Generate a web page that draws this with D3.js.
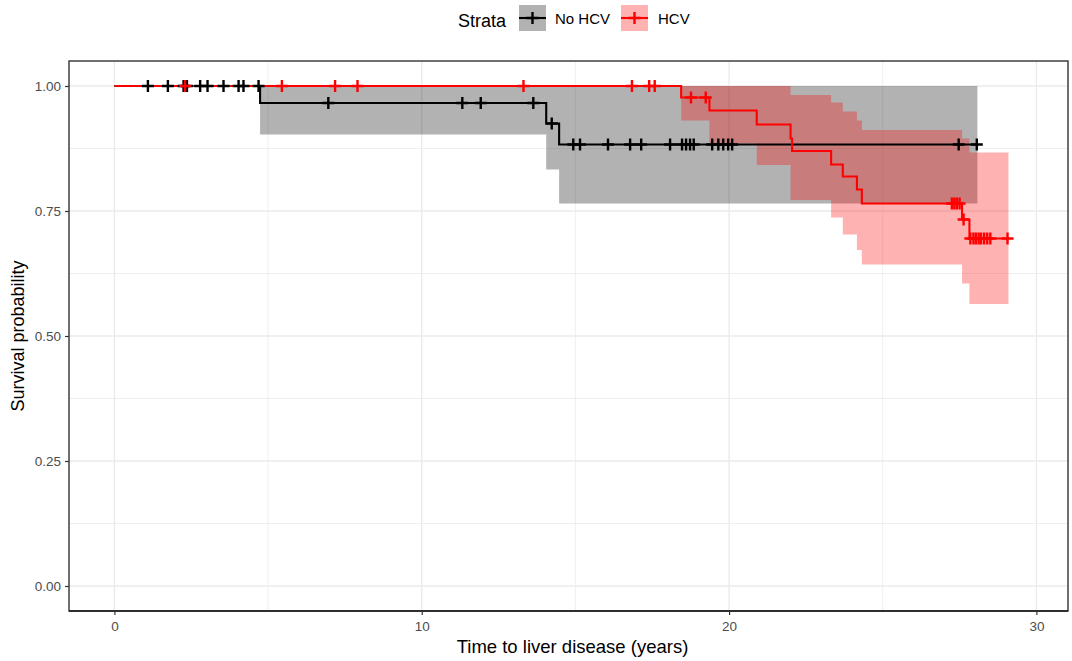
<!DOCTYPE html>
<html>
<head>
<meta charset="utf-8">
<script src="https://cdn.jsdelivr.net/npm/d3@7"></script>
<style>
  body { margin: 0; background: #fff; }
  text { font-family: "Liberation Sans", Arial, sans-serif; }
</style>
</head>
<body>
<script>
/* -----------------------------------------------------
 *  Data
 ----------------------------------------------------- */
const strata = ["No HCV", "HCV"];
const colors = ["black", "red"];

// No HCV
const noHcvTime = [0, 4.74, 14.05, 14.47];
const noHcvSurv = [1, 0.966, 0.925, 0.883];
const noHcvUpper = [1, 1, 1, 1];
const noHcvLower = [1, 0.903, 0.833, 0.765];
const noHcvEnd = 28.08;
const noHcvCensor = [1.09, 1.74, 2.25, 2.36, 2.79, 3.03, 3.55, 4.04, 4.2, 4.69,
  6.96, 11.32, 11.92, 13.63, 14.23,
  14.93, 15.15, 16.06, 16.78, 17.14, 18.08, 18.47, 18.6, 18.73, 18.85,
  19.45, 19.65, 19.81, 19.97, 20.1, 27.47, 28.06];

// HCV
const hcvTime = [0, 18.44, 19.36, 20.9, 22.0, 22.05, 23.32, 23.7, 24.16, 24.32, 27.58, 27.82];
const hcvSurv = [1, 0.977, 0.951, 0.923, 0.895, 0.87, 0.843, 0.819, 0.793, 0.765, 0.733, 0.695];
const hcvUpper = [1, 1, 1, 1, 0.982, 0.982, 0.967, 0.949, 0.931, 0.912, 0.895, 0.867];
const hcvLower = [1, 0.931, 0.885, 0.842, 0.772, 0.772, 0.737, 0.703, 0.672, 0.643, 0.605, 0.564];
const hcvEnd = 29.09;
const hcvCensor = [2.3, 5.45, 7.18, 7.91, 13.31, 16.84, 17.4, 17.58, 18.76, 19.24,
  27.25, 27.33, 27.41, 27.5, 27.63,
  27.85, 27.95, 28.03, 28.12, 28.2, 28.3, 28.4, 28.5, 29.06];

const xTicks = [0, 10, 20, 30];
const xMinor = [5, 15, 25];
const yTicks = [0, 0.25, 0.5, 0.75, 1];
const yMinor = [0.125, 0.375, 0.625, 0.875];

/* -----------------------------------------------------
 *  SVG setup
 ----------------------------------------------------- */
const width = 1072;
const height = 661;
const panel = { left: 69, right: 1068, top: 61, bottom: 611 };

const svg = d3
  .select("body")
  .append("svg")
  .attr("width", width)
  .attr("height", height);

svg.append("rect").attr("width", width).attr("height", height).attr("fill", "white");

const xMax = 29.55;
const x = d3
  .scaleLinear()
  .domain([-xMax * 0.05, xMax * 1.05])
  .range([panel.left, panel.right]);

const y = d3
  .scaleLinear()
  .domain([-0.05, 1.05])
  .range([panel.bottom, panel.top]);

/* -----------------------------------------------------
 *  Grid
 ----------------------------------------------------- */
const grid = svg.append("g");
grid.selectAll(".xminor").data(xMinor).enter().append("line")
  .attr("x1", (d) => x(d)).attr("x2", (d) => x(d))
  .attr("y1", panel.top).attr("y2", panel.bottom)
  .attr("stroke", "#ebebeb").attr("stroke-width", 0.8);
grid.selectAll(".yminor").data(yMinor).enter().append("line")
  .attr("y1", (d) => y(d)).attr("y2", (d) => y(d))
  .attr("x1", panel.left).attr("x2", panel.right)
  .attr("stroke", "#ebebeb").attr("stroke-width", 0.8);
grid.selectAll(".xmajor").data(xTicks).enter().append("line")
  .attr("x1", (d) => x(d)).attr("x2", (d) => x(d))
  .attr("y1", panel.top).attr("y2", panel.bottom)
  .attr("stroke", "#ebebeb").attr("stroke-width", 1.4);
grid.selectAll(".ymajor").data(yTicks).enter().append("line")
  .attr("y1", (d) => y(d)).attr("y2", (d) => y(d))
  .attr("x1", panel.left).attr("x2", panel.right)
  .attr("stroke", "#ebebeb").attr("stroke-width", 1.4);

/* -----------------------------------------------------
 *  Curves
 ----------------------------------------------------- */
function buildSteps(time, surv, upper, lower, end) {
  const pts = time.map((t, i) => ({ t: t, s: surv[i], up: upper[i], lo: lower[i] }));
  const last = pts[pts.length - 1];
  pts.push({ t: end, s: last.s, up: last.up, lo: last.lo });
  return pts;
}

function survAt(time, surv, t) {
  return surv[d3.bisectRight(time, t) - 1];
}

const series = [
  { name: strata[0], color: colors[0], steps: buildSteps(noHcvTime, noHcvSurv, noHcvUpper, noHcvLower, noHcvEnd),
    censor: noHcvCensor.map((t) => ({ t: t, s: survAt(noHcvTime, noHcvSurv, t) })) },
  { name: strata[1], color: colors[1], steps: buildSteps(hcvTime, hcvSurv, hcvUpper, hcvLower, hcvEnd),
    censor: hcvCensor.map((t) => ({ t: t, s: survAt(hcvTime, hcvSurv, t) })) }
];

const area = d3.area()
  .curve(d3.curveStepAfter)
  .x((d) => x(d.t))
  .y0((d) => y(d.lo))
  .y1((d) => y(d.up));

const line = d3.line()
  .curve(d3.curveStepAfter)
  .x((d) => x(d.t))
  .y((d) => y(d.s));

svg.selectAll(".ribbon").data(series).enter().append("path")
  .attr("class", "ribbon")
  .attr("d", (d) => area(d.steps))
  .attr("fill", (d) => d.color)
  .attr("fill-opacity", 0.3)
  .attr("stroke", "none");

svg.selectAll(".km").data(series).enter().append("path")
  .attr("class", "km")
  .attr("d", (d) => line(d.steps))
  .attr("fill", "none")
  .attr("stroke", (d) => d.color)
  .attr("stroke-width", 2.1);

const cross = "M-6,0H6M0,-6V6";
series.forEach((s) => {
  svg.append("g").selectAll("path").data(s.censor).enter().append("path")
    .attr("d", cross)
    .attr("transform", (d) => `translate(${x(d.t)},${y(d.s)})`)
    .attr("stroke", s.color)
    .attr("stroke-width", 2.4)
    .attr("fill", "none");
});

/* -----------------------------------------------------
 *  Panel border and axes
 ----------------------------------------------------- */
svg.append("rect")
  .attr("x", panel.left).attr("y", panel.top)
  .attr("width", panel.right - panel.left).attr("height", panel.bottom - panel.top)
  .attr("fill", "none").attr("stroke", "#333333").attr("stroke-width", 1.4);

svg.append("line")
  .attr("x1", panel.left).attr("x2", panel.right)
  .attr("y1", panel.bottom).attr("y2", panel.bottom)
  .attr("stroke", "#1a1a1a").attr("stroke-width", 1.6);

const xAxis = svg.append("g")
  .attr("transform", `translate(0,${panel.bottom})`)
  .call(d3.axisBottom(x).tickValues(xTicks).tickSize(4).tickPadding(6).tickFormat(d3.format("d")));
const yAxis = svg.append("g")
  .attr("transform", `translate(${panel.left},0)`)
  .call(d3.axisLeft(y).tickValues(yTicks).tickSize(4).tickPadding(4).tickFormat(d3.format(".2f")));

[xAxis, yAxis].forEach((ax) => {
  ax.select(".domain").remove();
  ax.selectAll(".tick line").attr("stroke", "#333333").attr("stroke-width", 1.2);
  ax.selectAll(".tick text")
    .attr("fill", "#4d4d4d")
    .style("font-size", "13.5px")
    .style("font-family", "Liberation Sans, Arial, sans-serif");
});

svg.append("text")
  .attr("x", (panel.left + panel.right) / 2 + 4)
  .attr("y", 653)
  .attr("text-anchor", "middle")
  .style("font-size", "18.5px")
  .text("Time to liver disease (years)");

svg.append("text")
  .attr("transform", `translate(24,${(panel.top + panel.bottom) / 2}) rotate(-90)`)
  .attr("text-anchor", "middle")
  .style("font-size", "18px")
  .text("Survival probability");

/* -----------------------------------------------------
 *  Legend
 ----------------------------------------------------- */
svg.append("text")
  .attr("x", 458).attr("y", 27)
  .style("font-size", "18px")
  .text("Strata");

const legendX = [519, 621];
const labelX = [555, 658];
series.forEach((s, i) => {
  const g = svg.append("g").attr("transform", `translate(${legendX[i]},5)`);
  g.append("rect").attr("width", 27).attr("height", 26)
    .attr("fill", s.color).attr("fill-opacity", 0.3);
  g.append("line").attr("x1", 0).attr("x2", 27).attr("y1", 13).attr("y2", 13)
    .attr("stroke", s.color).attr("stroke-width", 2.1);
  g.append("path").attr("d", cross).attr("transform", "translate(13.5,13)")
    .attr("stroke", s.color).attr("stroke-width", 2.4).attr("fill", "none");
  svg.append("text")
    .attr("x", labelX[i]).attr("y", 24)
    .style("font-size", "15px")
    .text(s.name);
});
</script>
</body>
</html>
